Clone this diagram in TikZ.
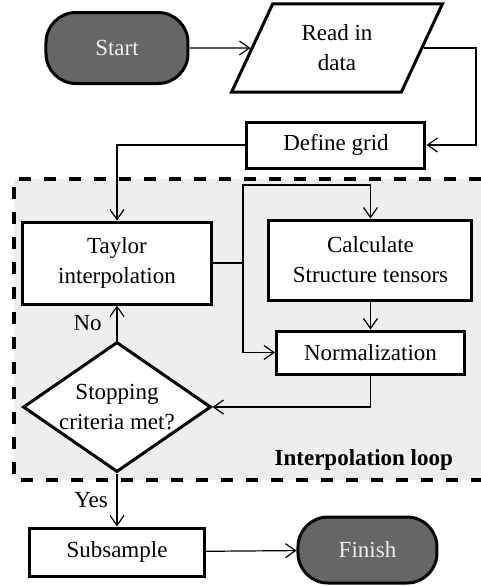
\documentclass[tikz,border=0pt]{standalone}
\usepackage{fontspec}
\setmainfont{Liberation Serif}
\usepackage{xcolor}
\definecolor{termgray}{HTML}{666666}
\definecolor{loopgray}{HTML}{EEEEEE}
\usetikzlibrary{arrows.meta}
\usetikzlibrary{shapes.geometric}

\begin{document}
\begin{tikzpicture}[x=0.5pt,y=-0.5pt,
    font=\fontsize{11.5}{15}\selectfont,
    box/.style={draw,line width=1.5pt,fill=white,align=center,inner sep=2pt},
    term/.style={box,rounded corners=15pt,fill=termgray,text=loopgray},
    io/.style={box,trapezium,trapezium left angle=65,trapezium right angle=115},
    test/.style={box,diamond,aspect=1.45,inner sep=0pt},
    arr/.style={-{Straight Barb[length=5pt,width=7pt]},line width=0.6pt}]
      \useasboundingbox (0,0) rectangle (481,586);
      \fill[loopgray] (14,179) rectangle (481,480);
      \draw[line width=1.6pt,dash pattern=on 6pt off 6.5pt] (481,179) -- (14,179) -- (14,480) -- (481,480);
      \node[font=\fontsize{11.5}{15}\selectfont\bfseries,anchor=east] (looplabel) at (460,460) {Interpolation loop};
      \node[term,minimum width=71pt,minimum height=35.5pt] (start) at (117,48) {Start};
      \node[io,minimum width=106pt,minimum height=35pt] (read) at (337,48) {Read in\\data};
      \node[box,minimum width=89pt,minimum height=23pt] (grid) at (336,145) {Define grid};
      \node[box,minimum width=94.5pt,minimum height=41pt] (taylor) at (117,263) {Taylor\\interpolation};
      \node[box,minimum width=101.5pt,minimum height=40pt] (tensor) at (370.5,260) {Calculate\\Structure tensors};
      \node[box,minimum width=94pt,minimum height=21.5pt] (norm) at (370.5,352.5) {Normalization};
      \node[test,minimum width=94pt,minimum height=65pt] (stop) at (117,407) {Stopping\\criteria met?};
      \node[box,minimum width=87.5pt,minimum height=24pt] (sub) at (117,552) {Subsample};
      \node[term,minimum width=69.5pt,minimum height=33pt] (finish) at (367.5,550) {Finish};
      \coordinate (readturn) at (476,145);
      \coordinate (split) at (243,263);
      \coordinate (splittop) at (243,185);
      \draw[arr] (start.east) -- (read.west);
      \draw[arr] (read.east) -| (readturn) -- (grid.east);
      \draw[arr] (grid.west) -| (taylor.north);
      \draw[arr] (taylor.east) -- (split) |- (norm.west);
      \draw[arr] (split) -- (splittop) -| (tensor.north);
      \draw[arr] (tensor) -- (norm);
      \draw[arr] (norm.south) |- (stop.east);
      \draw[arr] (stop.north) -- node[left=4pt] {No} (taylor.south);
      \draw[arr] (stop.south) -- node[left=1pt] {Yes} (sub.north);
      \draw[arr] (sub) -- (finish);
    \end{tikzpicture}
\end{document}
